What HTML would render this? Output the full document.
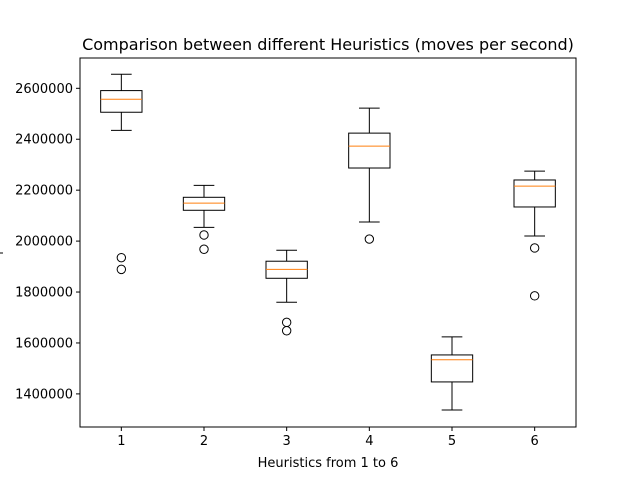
<!DOCTYPE html>
<html><head><meta charset="utf-8"><style>
body{margin:0;background:#fff;width:640px;height:480px;overflow:hidden}
svg{font-family:"DejaVu Sans","Liberation Sans",sans-serif}
</style></head><body>
<svg id="c" width="640" height="480"></svg>
<script>
const categories=["1","2","3","4","5","6"];
const whiskerHigh=[2655000,2219000,1964000,2522000,1624000,2275000];
const q3=[2591000,2172000,1921000,2424000,1553000,2240000];
const medians=[2557000,2149000,1889000,2373000,1534000,2216000];
const q1=[2506000,2121000,1854000,2287000,1447000,2134000];
const whiskerLow=[2435000,2054000,1760000,2075000,1337000,2020000];
const outliers=[[1935000,1889000],[2024000,1968000],[1681000,1648000],[2008000],[],[1973000,1785000]];
const yTicks=[1400000,1600000,1800000,2000000,2200000,2400000,2600000];
const yMin=1270000,yMax=2719000;
const L=80,R=576,T=58,B=427;
const NS="http://www.w3.org/2000/svg";
const svg=document.getElementById('c');
function y(v){return B-(v-yMin)/(yMax-yMin)*(B-T);}
function x(i){return L+(i+0.5)/categories.length*(R-L);}
const unit=(R-L)/categories.length;
function el(t,a,p){const e=document.createElementNS(NS,t);for(const k in a)e.setAttribute(k,a[k]);(p||svg).appendChild(e);return e;}
function line(x1,y1,x2,y2,c){return el('line',{x1,y1,x2,y2,stroke:c||'#000','stroke-width':1});}
const title=el('text',{x:328,y:50,'text-anchor':'middle','font-size':16,fill:'#000'});
title.textContent='Comparison between different Heuristics (moves per second)';


const xl=el('text',{x:328,y:467,'text-anchor':'middle','font-size':13,fill:'#000'});
xl.textContent='Heuristics from 1 to 6';


const yl=line(0,253,3,253);


yTicks.forEach(v=>{
  const g=el('g',{});
  
  
  line(L-4,y(v),L,y(v)).remove();
  el('line',{x1:L-4,y1:y(v),x2:L,y2:y(v),stroke:'#000'},g);
  const t=el('text',{x:L-7,y:y(v)+4.5,'text-anchor':'end','font-size':13,fill:'#000'},g);
  t.textContent=String(v);
});
categories.forEach((c,i)=>{
  const g=el('g',{});
  
  
  el('line',{x1:x(i),y1:B,x2:x(i),y2:B+4,stroke:'#000'},g);
  const t=el('text',{x:x(i),y:B+18,'text-anchor':'middle','font-size':13,fill:'#000'},g);
  t.textContent=c;
});
categories.forEach((c,i)=>{
  const g=el('g',{fill:'none',stroke:'#000'});
  
  
  const cx=x(i),bw=unit*0.25,cw=unit*0.125;
  el('line',{x1:cx,y1:y(whiskerHigh[i]),x2:cx,y2:y(q3[i])},g);
  el('line',{x1:cx,y1:y(whiskerLow[i]),x2:cx,y2:y(q1[i])},g);
  el('line',{x1:cx-cw,y1:y(whiskerHigh[i]),x2:cx+cw,y2:y(whiskerHigh[i])},g);
  el('line',{x1:cx-cw,y1:y(whiskerLow[i]),x2:cx+cw,y2:y(whiskerLow[i])},g);
  el('rect',{x:cx-bw,y:y(q3[i]),width:2*bw,height:y(q1[i])-y(q3[i])},g);
  el('line',{x1:cx-bw,y1:y(medians[i]),x2:cx+bw,y2:y(medians[i]),stroke:'#ff7f0e'},g);
  outliers[i].forEach(v=>{
    const o=el('circle',{cx:cx,cy:y(v),r:4.2},g);
    
    
  });
});
const frame=el('rect',{x:L,y:T,width:R-L,height:B-T,fill:'none',stroke:'#000'});


</script>
</body></html>
